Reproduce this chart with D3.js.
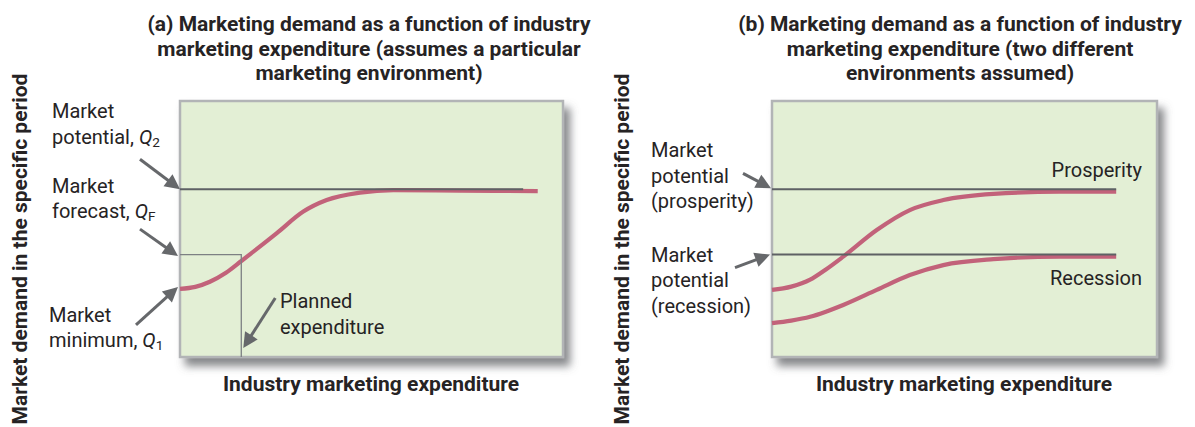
<!DOCTYPE html>
<html><head><meta charset="utf-8">
<script src="https://cdn.jsdelivr.net/npm/d3@7"></script>
<style>
html,body{margin:0;padding:0;background:#fff;}
svg{display:block;}
text{font-family:Roboto,"Noto Sans",sans-serif;fill:#262324;}
</style></head>
<body>
<svg id="chart" width="1195" height="427"></svg>
<script>
// ---- Data ----
// Panel (a)
const expenditureA = [0, 0.4, 0.78, 1.2, 1.61, 2.52, 3.22, 3.83, 4.70, 5.57, 7.31, 9.34];
const demandA      = [2.66, 2.74, 2.94, 3.29, 3.76, 4.83, 5.68, 6.13, 6.42, 6.52, 6.50, 6.48];
const marketPotentialA = 6.55;   // Q2
const marketForecastA  = 4.0;    // QF
const plannedExpenditureA = 1.6;
const potentialLineEndA = 8.96;
// Panel (b)
const expenditureB = [0, 0.5, 0.99, 1.4, 1.85, 2.72, 3.58, 4.45, 5.75, 7.48, 8.94];
const prosperityB  = [2.62, 2.75, 3.02, 3.42, 3.92, 4.96, 5.74, 6.13, 6.37, 6.46, 6.46];
const recessionB   = [1.32, 1.42, 1.57, 1.77, 2.03, 2.62, 3.20, 3.59, 3.82, 3.92, 3.92];
const potentialsB  = [6.55, 4.0];   // prosperity, recession
const potentialLineEndB = 8.94;
// Text
const titleA = ["(a) Marketing demand as a function of industry",
                "marketing expenditure (assumes a particular",
                "marketing environment)"];
const titleB = ["(b) Marketing demand as a function of industry",
                "marketing expenditure (two different",
                "environments assumed)"];
const yAxisTitle = "Market demand in the specific period";
const xAxisTitle = "Industry marketing expenditure";
const domain = [0, 10];

// ---- Drawing ----
const svg = d3.select("#chart");
const defs = svg.append("defs");
const f = defs.append("filter").attr("id","shadow").attr("x","-5%").attr("y","-5%").attr("width","115%").attr("height","120%");
f.append("feDropShadow").attr("dx",6).attr("dy",8).attr("stdDeviation",4)
  .attr("flood-color","#5f6266").attr("flood-opacity",0.75);

const CURVE = "#c2627a", LINE = "#5e6164", ARROW = "#66686b";

function panel(left, right, top, bottom) {
  const x = d3.scaleLinear().domain(domain).range([left, right]);
  const y = d3.scaleLinear().domain(domain).range([bottom, top]);
  svg.append("rect").attr("x",left).attr("y",top).attr("width",right-left).attr("height",bottom-top)
    .attr("fill","#e3efd5").attr("stroke","#b2b4b6").attr("stroke-width",2.5)
    .attr("filter","url(#shadow)");
  return {x, y};
}

function arrow(tx, ty, dx, dy) {
  const len = Math.hypot(dx, dy);
  const ux = -dx/len, uy = -dy/len; // direction from tail to tip
  const hl = 15, hw = 7.5;
  const bx = tx - ux*hl, by = ty - uy*hl;
  svg.append("line").attr("x1",tx+dx).attr("y1",ty+dy).attr("x2",bx+ux*2).attr("y2",by+uy*2)
    .attr("stroke",ARROW).attr("stroke-width",3);
  const px = -uy, py = ux;
  svg.append("polygon").attr("points",
    [[tx,ty],[bx+px*hw,by+py*hw],[bx-px*hw,by-py*hw]].map(p=>p.join(",")).join(" "))
    .attr("fill",ARROW);
}

function label(xp, yp, lines, size, weight, anchor) {
  const t = svg.append("text").attr("x",xp).attr("y",yp)
    .attr("font-size",size).attr("font-weight",weight||400)
    .attr("text-anchor",anchor||"start");
  lines.forEach((ln, i) => {
    const segs = typeof ln === "string" ? [{t:ln}] : ln;
    segs.forEach((s, j) => {
      const ts = t.append("tspan").text(s.t);
      if (j === 0) ts.attr("x",xp).attr("dy", i === 0 ? 0 : 25.5);
      if (s.it) ts.attr("font-style","italic");
      if (s.sub) ts.attr("font-size",size*0.68).attr("baseline-shift","-22%");
    });
  });
  return t;
}

function fitText(t, w) {
  if (t.node().getComputedTextLength() > w) t.attr("textLength",w).attr("lengthAdjust","spacingAndGlyphs");
}

function fitTitle(xc, y0, lines, widths) {
  lines.forEach((ln, i) => {
    const t = svg.append("text").attr("x",xc).attr("y",y0+i*24.7).attr("text-anchor","middle")
      .attr("font-size",21).attr("font-weight",700).text(ln);
    fitText(t, widths[i]);
  });
}

function yTitle(xb, yc) {
  const t = svg.append("text").attr("transform",`translate(${xb},${yc}) rotate(-90)`)
    .attr("text-anchor","middle").attr("font-size",21).attr("font-weight",700).text(yAxisTitle);
  fitText(t, 352);
}
function xTitle(xc, yb) {
  const t = svg.append("text").attr("x",xc).attr("y",yb).attr("text-anchor","middle")
    .attr("font-size",21).attr("font-weight",700).text(xAxisTitle);
  fitText(t, 308);
}

const line = (x, y) => d3.line().x(d=>x(d[0])).y(d=>y(d[1])).curve(d3.curveMonotoneX);

// ---- Panel (a) ----
const A = panel(180, 563, 101, 357);
svg.append("path").attr("d", line(A.x,A.y)(d3.zip(expenditureA, demandA)))
  .attr("fill","none").attr("stroke",CURVE).attr("stroke-width",4.2).attr("stroke-linecap","butt");
svg.append("line").attr("x1",A.x(0)).attr("x2",A.x(potentialLineEndA))
  .attr("y1",A.y(marketPotentialA)).attr("y2",A.y(marketPotentialA))
  .attr("stroke",LINE).attr("stroke-width",2);
svg.append("path").attr("d",
  `M${A.x(0)},${A.y(marketForecastA)}H${A.x(plannedExpenditureA)}V${A.y(0)}`)
  .attr("fill","none").attr("stroke","#7d8083").attr("stroke-width",1.3);

arrow(A.x(0), A.y(marketPotentialA), -40, -30);
arrow(A.x(0)-2, A.y(marketForecastA)+1.5, -38, -27);
arrow(A.x(0)-2, A.y(demandA[0])-2, -42, 38);
arrow(A.x(plannedExpenditureA)+2, A.y(0)-9, 32, -50);

label(52, 118, ["Market", [{t:"potential, "},{t:"Q",it:1},{t:"2",sub:1}]], 20);
label(52, 192.5, ["Market", [{t:"forecast, "},{t:"Q",it:1},{t:"F",sub:1}]], 20);
label(49, 321.5, ["Market", [{t:"minimum, "},{t:"Q",it:1},{t:"1",sub:1}]], 20);
label(280, 308, ["Planned", "expenditure"], 20);

fitTitle(369, 31, titleA, [447, 436, 262]);
yTitle(27, 249);
xTitle(371, 391);

// ---- Panel (b) ----
const B = panel(772, 1157, 101, 357);
[prosperityB, recessionB].forEach(s => {
  svg.append("path").attr("d", line(B.x,B.y)(d3.zip(expenditureB, s)))
    .attr("fill","none").attr("stroke",CURVE).attr("stroke-width",4.2);
});
potentialsB.forEach(p => {
  svg.append("line").attr("x1",B.x(0)).attr("x2",B.x(potentialLineEndB))
    .attr("y1",B.y(p)).attr("y2",B.y(p)).attr("stroke",LINE).attr("stroke-width",2);
});
arrow(B.x(0)-1, B.y(potentialsB[0])-1, -28, -15);
arrow(B.x(0)-2, B.y(potentialsB[1]), -35, 13);

label(651, 157, ["Market", "potential", "(prosperity)"], 20);
label(651, 261.5, ["Market", "potential", "(recession)"], 20);
label(1142, 177, ["Prosperity"], 20, 400, "end");
label(1142, 285, ["Recession"], 20, 400, "end");

fitTitle(960, 31, titleB, [446, 349, 237]);
yTitle(629, 249);
xTitle(964, 391);
</script>
</body></html>
